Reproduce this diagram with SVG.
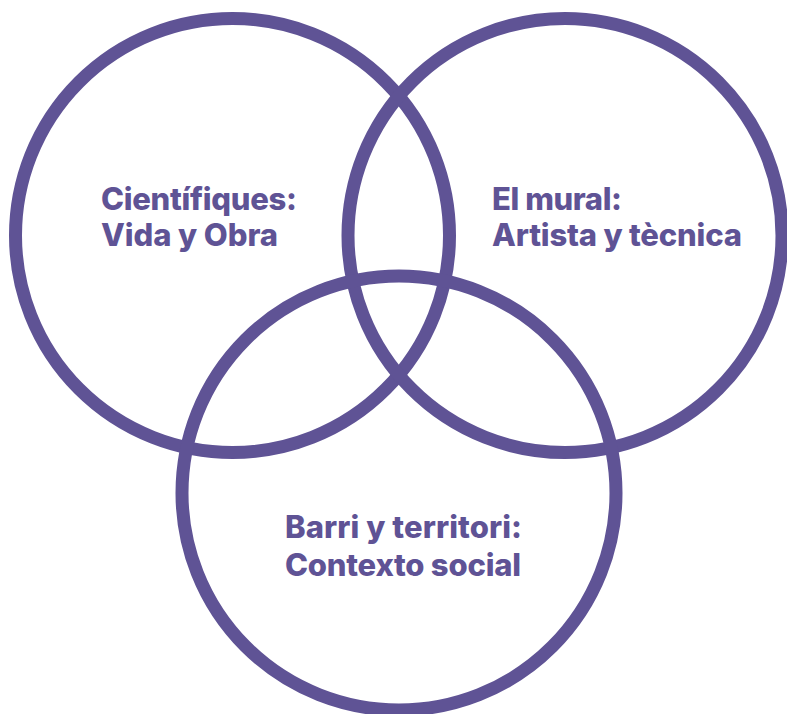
<svg xmlns="http://www.w3.org/2000/svg" width="787" height="714" viewBox="0 0 787 714">
<style>
.c{fill:none;stroke:#5f5395;stroke-width:13}
.t{fill:#5f5395;font-family:Inter,"Liberation Sans",sans-serif;font-weight:800;font-size:31px}
</style>
<rect width="787" height="714" fill="#fff"/>
<g id="circle-cientifiques"><circle class="c" cx="232.5" cy="235.5" r="217"/></g>
<g id="circle-mural"><circle class="c" cx="565" cy="235.5" r="217"/></g>
<g id="circle-barri"><circle class="c" cx="399" cy="493" r="217"/></g>
<g id="label-cientifiques"><text class="t" x="101" y="210" textLength="196">Científiques:</text><text class="t" x="101" y="246" textLength="177">Vida y Obra</text></g>
<g id="label-mural"><text class="t" x="492" y="210" textLength="130">El mural:</text><text class="t" x="492" y="246" textLength="250">Artista y tècnica</text></g>
<g id="label-barri"><text class="t" x="285" y="538" textLength="237">Barri y territori:</text><text class="t" x="285" y="576" textLength="236">Contexto social</text></g>
<g id="connectors"></g>
</svg>
